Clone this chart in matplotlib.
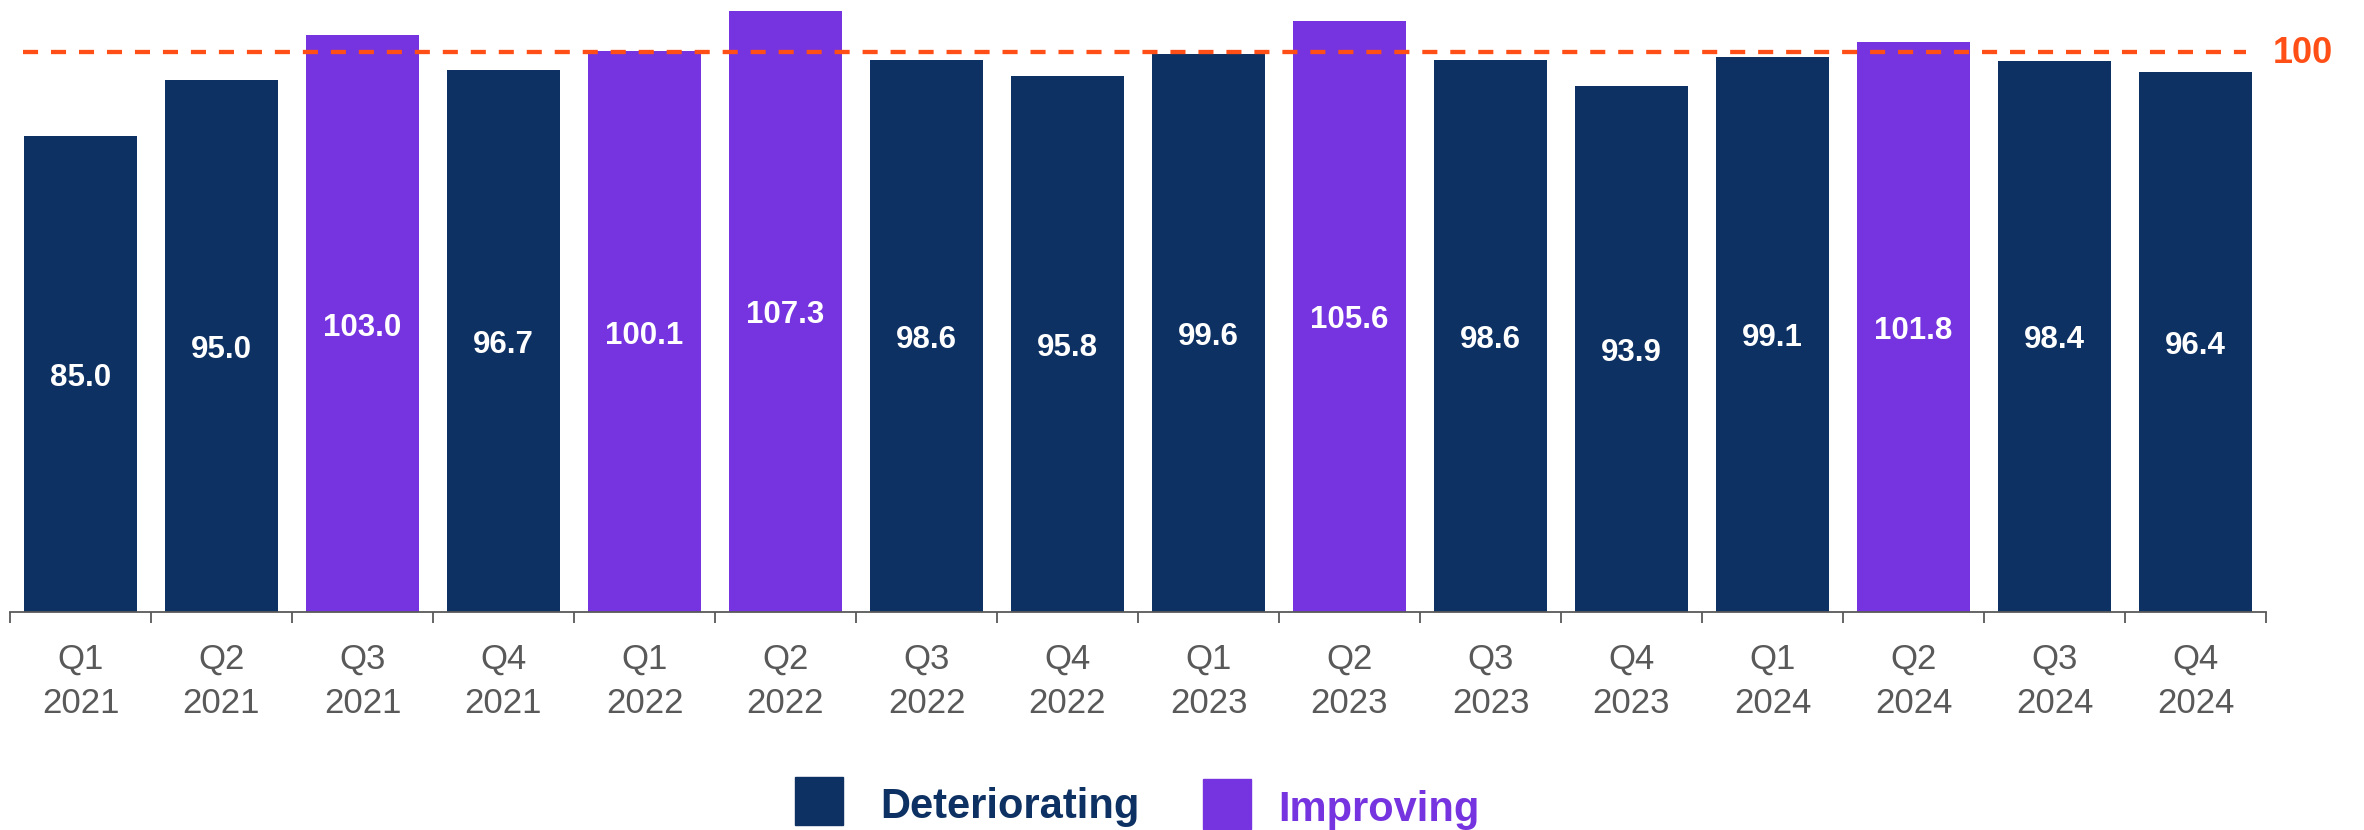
import matplotlib
matplotlib.use("Agg")
import matplotlib.pyplot as plt
from matplotlib.patches import Rectangle

plt.rcParams['font.family'] = ['Liberation Sans', 'DejaVu Sans']

quarters = ["Q1", "Q2", "Q3", "Q4"] * 4
years = ["2021"] * 4 + ["2022"] * 4 + ["2023"] * 4 + ["2024"] * 4
values = [85.0, 95.0, 103.0, 96.7, 100.1, 107.3, 98.6, 95.8,
          99.6, 105.6, 98.6, 93.9, 99.1, 101.8, 98.4, 96.4]
status = ["D", "D", "I", "D", "I", "I", "D", "D",
          "D", "I", "D", "D", "D", "I", "D", "D"]
threshold = 100

NAVY = "#0e3163"
PURPLE = "#7633e0"
ORANGE = "#ff4f17"
GRAY = "#595959"

W, H = 2364, 830
fig = plt.figure(figsize=(W / 100, H / 100), dpi=100)
ax = fig.add_axes([10 / W, 1 - 612 / H, (2266 - 10) / W, 612 / H])

x = list(range(len(values)))
colors = [PURPLE if s == "I" else NAVY for s in status]
ax.bar(x, values, width=0.8, color=colors, zorder=2)

for xi, v in zip(x, values):
    ax.text(xi, v / 2 - 0.7, f"{v:.1f}", ha="center", va="center",
            color="white", fontsize=22.5, fontweight="bold", zorder=3)

ax.hlines(threshold, -0.41, 15.36, color=ORANGE, lw=3.1,
          linestyles=(0, (3.5, 3.0)), zorder=4)
ax.text(15.5 + 7 / 141, threshold - 0.2, "100", color=ORANGE, fontsize=26,
        fontweight="bold", ha="left", va="center", clip_on=False)

ax.set_xlim(-0.5, 15.5)
ax.set_ylim(0, 612 / 5.6)

for s in ["top", "right", "left"]:
    ax.spines[s].set_visible(False)
ax.spines["bottom"].set_color(GRAY)
ax.spines["bottom"].set_linewidth(1.3)
ax.set_yticks([])

ax.set_xticks(x)
ax.set_xticklabels([f"{q}\n{y}" for q, y in zip(quarters, years)],
                   fontsize=25, color=GRAY, linespacing=1.45)
ax.tick_params(axis="x", which="major", length=0, pad=22)
ax.set_xticks([i - 0.5 for i in range(len(values) + 1)], minor=True)
ax.tick_params(axis="x", which="minor", length=8, width=1.3, color=GRAY)

# legend
fig.patches.append(Rectangle((795 / W, 1 - 825 / H), 48 / W, 48 / H,
                             color=NAVY, transform=fig.transFigure))
fig.text(880 / W, 1 - 818 / H, "Deteriorating", color=NAVY, fontsize=30,
         fontweight="bold", ha="left", va="baseline")
fig.patches.append(Rectangle((1203 / W, 1 - 829 / H), 48 / W, 50 / H,
                             color=PURPLE, transform=fig.transFigure))
fig.text(1278 / W, 1 - 821 / H, "Improving", color=PURPLE, fontsize=30,
         fontweight="bold", ha="left", va="baseline")

fig.savefig("out.png", dpi=100)
